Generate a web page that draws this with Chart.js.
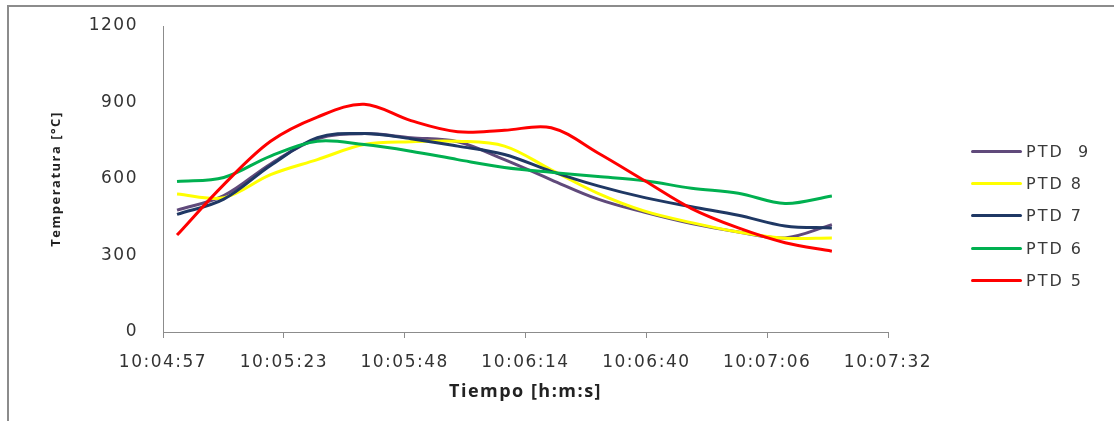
<!DOCTYPE html>
<html>
<head>
<meta charset="utf-8">
<title>Temperatura PTD</title>
<script src="https://cdn.jsdelivr.net/npm/chart.js@4.4.1/dist/chart.umd.min.js"></script>
<style>
  html, body { margin: 0; padding: 0; background: #fff; }
  #wrap { position: relative; width: 1114px; height: 421px; overflow: hidden; }
  #frame {
    position: absolute; left: 7px; top: 5px; width: 1120px; height: 430px;
    border-left: 2px solid #8c8c8c; border-top: 2px solid #8c8c8c;
  }
  #chart { position: absolute; left: 0; top: 0; }
  #legend {
    position: absolute; left: 971px; top: 135px;
    font-family: "DejaVu Sans", sans-serif; font-size: 16px; color: #3a3a3a;
    letter-spacing: 2px;
  }
  .item { display: flex; align-items: center; height: 32.3px; white-space: pre; }
  .swatch { width: 51px; height: 3px; margin-right: 4px; border-radius: 1.5px; }
</style>
</head>
<body>
<div id="wrap">
  <div id="frame"></div>
  <canvas id="chart" width="1114" height="421"></canvas>
  <div id="legend"></div>
</div>
<script>
const startTime = "10:04:57";
const endTime = "10:07:32";
const tickLabels = ["10:04:57", "10:05:23", "10:05:48", "10:06:14", "10:06:40", "10:07:06", "10:07:32"];
const yTicks = [0, 300, 600, 900, 1200];

const sampleTimes = [
  "10:05:00", "10:05:10", "10:05:20", "10:05:30", "10:05:40",
  "10:05:50", "10:06:00", "10:06:10", "10:06:20", "10:06:30",
  "10:06:40", "10:06:50", "10:07:00", "10:07:10", "10:07:20"
];

const ptd9 = [478, 535, 659, 758, 778, 762, 746, 676, 597, 521, 469, 425, 392, 369, 421];
const ptd8 = [541, 527, 617, 676, 735, 746, 748, 729, 636, 544, 474, 429, 392, 368, 369];
const ptd7 = [461, 521, 653, 762, 778, 758, 729, 696, 630, 573, 527, 491, 458, 416, 408];
const ptd6 = [590, 606, 690, 748, 735, 709, 676, 645, 626, 610, 593, 564, 544, 504, 533];
const ptd5 = [380, 578, 748, 843, 893, 829, 785, 791, 801, 702, 593, 484, 408, 350, 317];

function toSeconds(t) {
  const [h, m, s] = t.split(":").map(Number);
  return h * 3600 + m * 60 + s;
}

const t0 = toSeconds(startTime);
const span = toSeconds(endTime) - t0;

function toPoints(values) {
  return values.map((v, i) => ({ x: toSeconds(sampleTimes[i]) - t0, y: v }));
}

function makeSeries(label, values, color, order) {
  return {
    label,
    data: toPoints(values),
    borderColor: color,
    backgroundColor: color,
    borderWidth: 3,
    pointRadius: 0,
    tension: 0.35,
    order
  };
}

const datasets = [
  makeSeries("PTD  9", ptd9, "#604a7b", 4),
  makeSeries("PTD 8", ptd8, "#ffff00", 3),
  makeSeries("PTD 7", ptd7, "#1f3864", 2),
  makeSeries("PTD 6", ptd6, "#00b050", 1),
  makeSeries("PTD 5", ptd5, "#ff0000", 0)
];

// canvas text in the picture is a bit wide, spread the letters a little
const letterSpacingPlugin = {
  id: "letterSpacing",
  beforeDraw(chart) { chart.ctx.letterSpacing = "1.5px"; },
  afterDraw(chart) { chart.ctx.letterSpacing = "0px"; }
};

const axisColor = "#8c8c8c";
const textColor = "#333333";

const chart = new Chart(document.getElementById("chart"), {
  type: "line",
  data: { datasets },
  plugins: [letterSpacingPlugin],
  options: {
    responsive: false,
    animation: false,
    layout: { padding: { left: 0, right: 226, top: 26, bottom: 0 } },
    plugins: {
      legend: { display: false },
      tooltip: { enabled: false }
    },
    scales: {
      x: {
        type: "linear",
        min: 0,
        max: span,
        afterBuildTicks(scale) {
          scale.ticks = tickLabels.map((_, i) => ({ value: i * span / (tickLabels.length - 1) }));
        },
        afterFit(scale) { scale.height = 89; },
        ticks: {
          callback: (value, index) => tickLabels[index],
          color: textColor,
          font: { family: "DejaVu Sans", size: 17 },
          padding: 14,
          maxRotation: 0,
          autoSkip: false
        },
        grid: {
          drawOnChartArea: false,
          drawTicks: true,
          tickLength: 6,
          color: axisColor
        },
        border: { display: true, color: axisColor, width: 1 },
        title: {
          display: true,
          text: "Tiempo [h:m:s]",
          color: "#222222",
          font: { family: "Open Sans", size: 18, weight: "bold" },
          padding: { top: 0, bottom: 18 }
        }
      },
      y: {
        min: 0,
        max: 1200,
        afterBuildTicks(scale) {
          scale.ticks = yTicks.map(v => ({ value: v }));
        },
        afterFit(scale) { scale.width = 163; },
        ticks: {
          callback: value => String(value),
          color: textColor,
          font: { family: "DejaVu Sans", size: 17 },
          padding: 0
        },
        // hidden tick marks only keep the labels away from the axis line
        grid: { display: false, drawTicks: true, tickLength: 25 },
        border: { display: true, color: axisColor, width: 1 },
        title: {
          display: true,
          text: "Temperatura [°C]",
          color: "#222222",
          font: { family: "Open Sans", size: 13, weight: "bold" },
          padding: { top: 48, bottom: 0 }
        }
      }
    }
  }
});

function buildLegend() {
  const legendEl = document.getElementById("legend");
  chart.data.datasets.forEach(ds => {
    const item = document.createElement("div");
    item.className = "item";
    const swatch = document.createElement("span");
    swatch.className = "swatch";
    swatch.style.background = ds.borderColor;
    const label = document.createElement("span");
    label.textContent = ds.label;
    item.appendChild(swatch);
    item.appendChild(label);
    legendEl.appendChild(item);
  });
}

buildLegend();
</script>
</body>
</html>
